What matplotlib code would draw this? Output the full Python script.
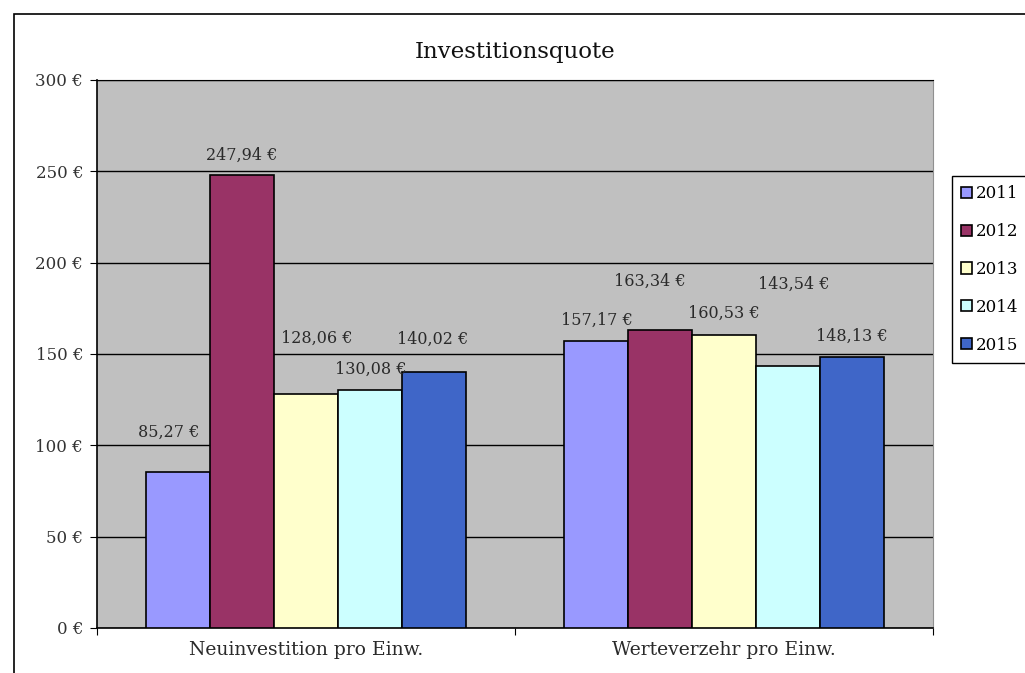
import matplotlib
matplotlib.use("Agg")
import matplotlib.pyplot as plt
from matplotlib.patches import Rectangle, Patch
import numpy as np

categories = ["Neuinvestition pro Einw.", "Werteverzehr pro Einw."]
years = ["2011", "2012", "2013", "2014", "2015"]
v2011 = [85.27, 157.17]
v2012 = [247.94, 163.34]
v2013 = [128.06, 160.53]
v2014 = [130.08, 143.54]
v2015 = [140.02, 148.13]
series = [v2011, v2012, v2013, v2014, v2015]
colors = ["#9999FF", "#993366", "#FFFFCC", "#CCFFFF", "#3F66C8"]
yticks = [0, 50, 100, 150, 200, 250, 300]

# label offsets in pixels (dx, dy) relative to the bar top centre
label_offsets = [
    [(-9, 40), (1, 21)],
    [(0, 20), (-10, 48)],
    [(11, 56), (0, 21)],
    [(1, 21), (6, 81)],
    [(-1, 33), (0, 21)],
]

W, H = 1025, 673
fig = plt.figure(figsize=(W / 100, H / 100), dpi=100)
fig.patch.set_facecolor("white")
FONT = "DejaVu Serif"

# outer chart frame (cropped at right/bottom)
fig.add_artist(Rectangle((14 / W, -0.1), 1.2, (H - 14) / H + 0.1, transform=fig.transFigure,
                         fill=False, edgecolor="black", linewidth=1.2))

left, right, top, bottom = 97, 933, 80, 628
ax = fig.add_axes([left / W, 1 - bottom / H, (right - left) / W, (bottom - top) / H])
ax.set_facecolor("#C0C0C0")

n = len(series)
bw = 0.766 / n
x = np.arange(len(categories))
for i, (vals, c) in enumerate(zip(series, colors)):
    xs = x + (i - (n - 1) / 2) * bw
    ax.bar(xs, vals, width=bw, color=c, edgecolor="black", linewidth=1.2, zorder=3,
           label=years[i])
    for j, (xx, v) in enumerate(zip(xs, vals)):
        dx, dy = label_offsets[i][j]
        ax.annotate(f"{v:.2f} €".replace(".", ","), (xx, v), xytext=(dx, dy),
                    textcoords="offset pixels", ha="center", va="center",
                    fontsize=11.5, family=FONT, color="#2a2a2a", zorder=4)

ax.set_xlim(-0.5, len(categories) - 0.5)
ax.set_ylim(0, 300)
ax.set_yticks(yticks)
ax.set_yticklabels([f"{t} €" for t in yticks], family=FONT, fontsize=12, color="#333333")
ax.yaxis.grid(True, color="black", linewidth=1, zorder=1)
ax.set_axisbelow(True)

ax.set_xticks([-0.5, 0.5, 1.5])
ax.set_xticklabels([])
ax.tick_params(axis="x", direction="out", length=5, color="black")
ax.tick_params(axis="y", direction="out", length=5, color="black", pad=5)
for j, cat in enumerate(categories):
    ax.text(j, -7, cat, ha="center", va="top", family=FONT, fontsize=13.5,
            color="#2a2a2a", transform=ax.transData)

for s in ["left", "bottom"]:
    ax.spines[s].set_color("black")
    ax.spines[s].set_linewidth(1.2)
ax.spines["top"].set_color("black")
ax.spines["right"].set_color("#909090")

fig.text((left + right) / 2 / W, 1 - 52 / H, "Investitionsquote", ha="center", va="center",
         family=FONT, fontsize=16.5, color="#111111")

handles = [Patch(facecolor=c, edgecolor="black", linewidth=1.2, label=y)
           for c, y in zip(colors, years)]
leg = fig.legend(handles=handles, loc="upper left", bbox_to_anchor=(952 / W, 1 - 176 / H),
                 frameon=True, fancybox=False, edgecolor="black", framealpha=1,
                 prop={"family": FONT, "size": 12}, handlelength=0.65, handleheight=0.65,
                 handletextpad=0.25, labelspacing=1.25, borderpad=0.55, borderaxespad=0)
leg.get_frame().set_linewidth(1)

fig.savefig("out.png", dpi=100)
